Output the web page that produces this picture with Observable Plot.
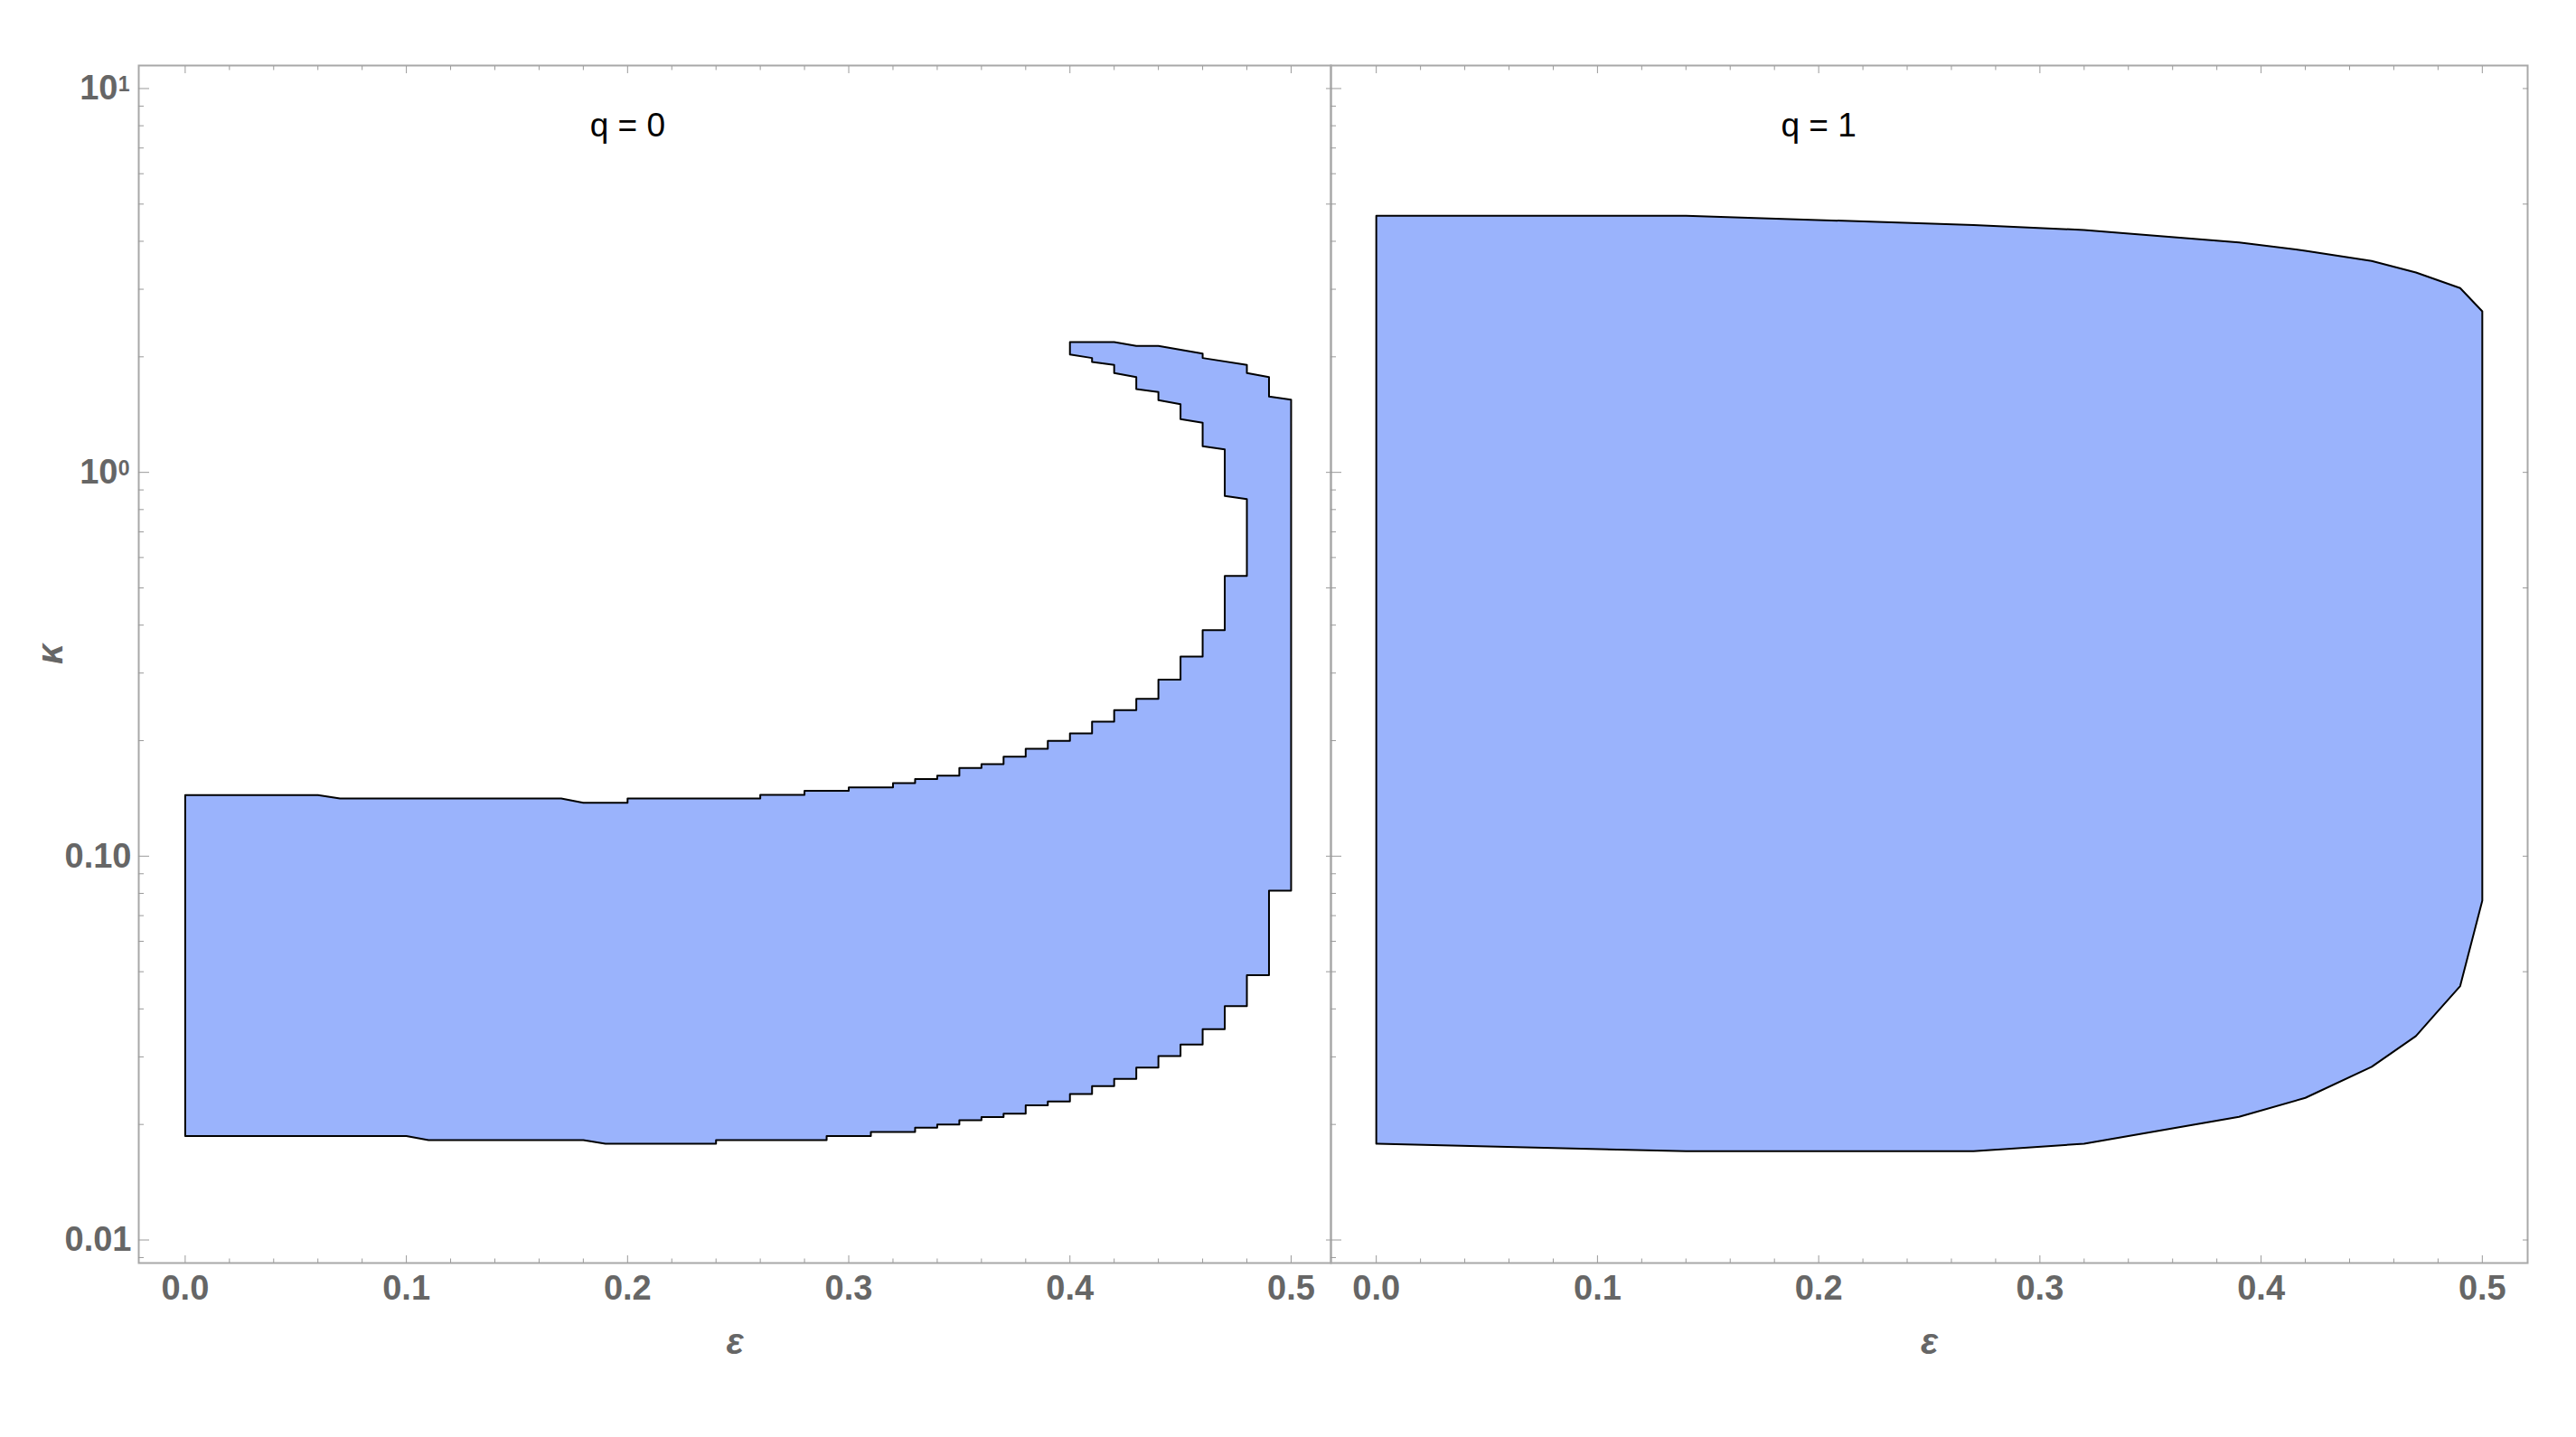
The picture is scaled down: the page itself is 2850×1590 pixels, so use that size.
<!DOCTYPE html>
<html><head><meta charset="utf-8">
<script src="https://cdn.jsdelivr.net/npm/d3@7"></script>
<script src="https://cdn.jsdelivr.net/npm/@observablehq/plot@0.6"></script>
<style>
html,body{margin:0;padding:0;background:#fff;}
#wrap{position:relative;width:2850px;height:1590px;overflow:hidden;background:#fff;}
#wrap svg{position:absolute;top:0;overflow:visible;}
</style></head><body><div id="wrap"></div>
<script>
// ---- data: q = 0 region boundary (epsilon, kappa), traced clockwise ----
const q0Eps = [0,0,0.06,0.07,0.17,0.18,0.20,0.20,0.26,0.26,0.28,0.28,0.30,0.30,0.32,0.32,0.33,0.33,0.34,0.34,0.35,0.35,0.36,0.36,0.37,0.37,0.38,0.38,0.39,0.39,0.40,0.40,0.41,0.41,0.42,0.42,0.43,0.43,0.44,0.44,0.45,0.45,0.46,0.46,0.47,0.47,0.48,0.48,0.47,0.47,0.46,0.46,0.45,0.45,0.44,0.44,0.43,0.43,0.42,0.42,0.41,0.41,0.40,0.40,0.42,0.43,0.44,0.46,0.46,0.48,0.48,0.49,0.49,0.50,0.50,0.49,0.49,0.48,0.48,0.47,0.47,0.46,0.46,0.45,0.45,0.44,0.44,0.43,0.43,0.42,0.42,0.41,0.41,0.40,0.40,0.39,0.39,0.38,0.38,0.37,0.37,0.36,0.36,0.35,0.35,0.34,0.34,0.33,0.33,0.31,0.31,0.29,0.29,0.24,0.24,0.19,0.18,0.11,0.10];
const q0Kappa = [0.01865,0.1443,0.1443,0.1413,0.1413,0.1378,0.1378,0.1413,0.1413,0.1445,0.1445,0.148,0.148,0.1511,0.1511,0.155,0.155,0.1588,0.1588,0.1622,0.1622,0.1697,0.1697,0.1738,0.1738,0.1817,0.1817,0.1905,0.1905,0.1998,0.1998,0.2089,0.2089,0.2242,0.2242,0.2401,0.2401,0.2571,0.2571,0.2882,0.2882,0.3312,0.3312,0.388,0.388,0.537,0.537,0.852,0.868,1.148,1.170,1.347,1.376,1.506,1.542,1.619,1.649,1.772,1.815,1.905,1.94,1.986,2.029,2.185,2.185,2.135,2.135,2.04,1.986,1.905,1.815,1.772,1.576,1.547,0.0813,0.0813,0.049,0.049,0.0407,0.0407,0.03542,0.03542,0.0323,0.0323,0.03016,0.03016,0.02815,0.02815,0.0263,0.0263,0.02518,0.02518,0.024,0.024,0.02296,0.02296,0.02242,0.02242,0.02135,0.02135,0.0209,0.0209,0.0205,0.0205,0.0200,0.0200,0.01962,0.01962,0.01912,0.01912,0.01865,0.01865,0.0182,0.0182,0.01782,0.01782,0.0182,0.0182,0.01865];

// ---- data: q = 1 region boundary ----
const q1Eps = [0,0,0.14,0.27,0.32,0.39,0.42,0.45,0.47,0.49,0.50,0.50,0.49,0.48,0.47,0.45,0.42,0.39,0.32,0.27,0.14];
const q1Kappa = [0.01782,4.661,4.661,4.41,4.28,3.97,3.78,3.554,3.318,3.021,2.628,0.0766,0.04586,0.0395,0.034,0.02826,0.02346,0.02094,0.01782,0.01703,0.01703];

// ---- axes / labels ----
const xTicks = [0,0.1,0.2,0.3,0.4,0.5];
const xTickLabels = ["0.0","0.1","0.2","0.3","0.4","0.5"];
const yTicks = [10,1,0.1,0.01];
const yTickBase = ["10","10","0.10","0.01"];
const yTickExp = ["1","0","",""];
const panelTitles = ["q = 0","q = 1"];
const titleEps = 0.2, titleKappa = 8;
const xLabel = "ε", yLabel = "κ";

const FILL = "#9AB3FC";
const FRAME = "#a8a8a8";
const TICK = "#9a9a9a";
const LABEL = "#666666";
const FONT = "'Liberation Sans', Arial, Helvetica, sans-serif";

const yDomain = [Math.pow(10,-2.06), Math.pow(10,1.06)];
const yMinor = [];
for (let k = -3; k <= 1; k++) for (let m = 2; m <= 9; m++) {
  const v = m * Math.pow(10, k);
  if (v > yDomain[0] && v < yDomain[1]) yMinor.push(v);
}
const xMinor = d3.range(0, 26).map(i => +(i * 0.02).toFixed(2)).filter(v => Math.abs(v*10 - Math.round(v*10)) > 1e-6);
const ySparse = [0.01,0.05,0.1,0.5,1,5,10];

function tickMarks() {
  const m = [];
  for (const anchor of ["bottom","top"]) {
    m.push(Plot.axisX(xTicks, {anchor, tickSize: -8, stroke: TICK, fill: "none", label: null}));
    m.push(Plot.axisX(xMinor, {anchor, tickSize: -4.5, stroke: TICK, fill: "none", label: null}));
  }
  m.push(Plot.axisY(yTicks, {anchor: "left", tickSize: -12, stroke: TICK, fill: "none", label: null}));
  m.push(Plot.axisY(yMinor, {anchor: "left", tickSize: -6, stroke: TICK, fill: "none", label: null}));
  m.push(Plot.axisY(ySparse, {anchor: "right", tickSize: -6, stroke: TICK, fill: "none", label: null}));
  return m;
}

function yLabelMarks() {
  const big = yTicks.map((v, i) => ({v, base: yTickBase[i], exp: yTickExp[i]}));
  const common = {y: "v", frameAnchor: "left", textAnchor: "end", fontWeight: "bold", fill: LABEL, fontFamily: FONT};
  return [
    Plot.text(big.filter(d => d.exp), {...common, text: "base", dx: -23, fontSize: 38, lineAnchor: "middle"}),
    Plot.text(big.filter(d => d.exp), {...common, text: "exp", dx: -10, dy: -13, fontSize: 23, lineAnchor: "top"}),
    Plot.text(big.filter(d => !d.exp), {...common, text: "base", dx: -8, fontSize: 38, lineAnchor: "middle"}),
    Plot.text([yLabel], {frameAnchor: "left", text: d => d, dx: -97, rotate: -90, fontSize: 40, fontWeight: "bold", fontStyle: "italic", fill: LABEL, fontFamily: FONT, lineAnchor: "middle"})
  ];
}

function buildPanel(eps, kap, title, opts) {
  const pts = eps.map((e, i) => ({e, k: kap[i]}));
  return Plot.plot({
    width: opts.width, height: 1590,
    marginLeft: opts.ml, marginRight: opts.mr, marginTop: 72, marginBottom: 193,
    x: {type: "linear", domain: opts.xDomain, axis: null},
    y: {type: "log", domain: yDomain, axis: null},
    style: {background: "transparent", fontFamily: FONT, overflow: "visible"},
    marks: [
      Plot.line(pts, {x: "e", y: "k", curve: "linear-closed", fill: FILL, stroke: "black", strokeWidth: 2}),
      Plot.frame({stroke: FRAME, strokeWidth: 2}),
      ...tickMarks(),
      Plot.text([title], {x: titleEps, y: titleKappa, text: d => d, fontSize: 37, fill: "black", fontFamily: FONT, textAnchor: "middle", lineAnchor: "middle"}),
      Plot.text(xTicks, {x: d => d, text: (d, i) => xTickLabels[i], frameAnchor: "bottom", dy: 14, lineAnchor: "top", fontSize: 38, fontWeight: "bold", fill: LABEL, fontFamily: FONT}),
      Plot.text([xLabel], {frameAnchor: "bottom", text: d => d, dy: 88, lineAnchor: "middle", fontSize: 40, fontWeight: "bold", fontStyle: "italic", fill: LABEL, fontFamily: FONT}),
      ...(opts.yLabels ? yLabelMarks() : [])
    ]
  });
}

const wrap = document.getElementById("wrap");
const left = buildPanel(q0Eps, q0Kappa, panelTitles[0], {width: 1472, ml: 153, mr: 0, xDomain: [-0.021, 0.518], yLabels: true});
left.style.left = "0px";
wrap.appendChild(left);
const right = buildPanel(q1Eps, q1Kappa, panelTitles[1], {width: 1378, ml: 0, mr: 54, xDomain: [-0.0205, 0.5205], yLabels: false});
right.style.left = "1472px";
wrap.appendChild(right);
</script></body></html>
